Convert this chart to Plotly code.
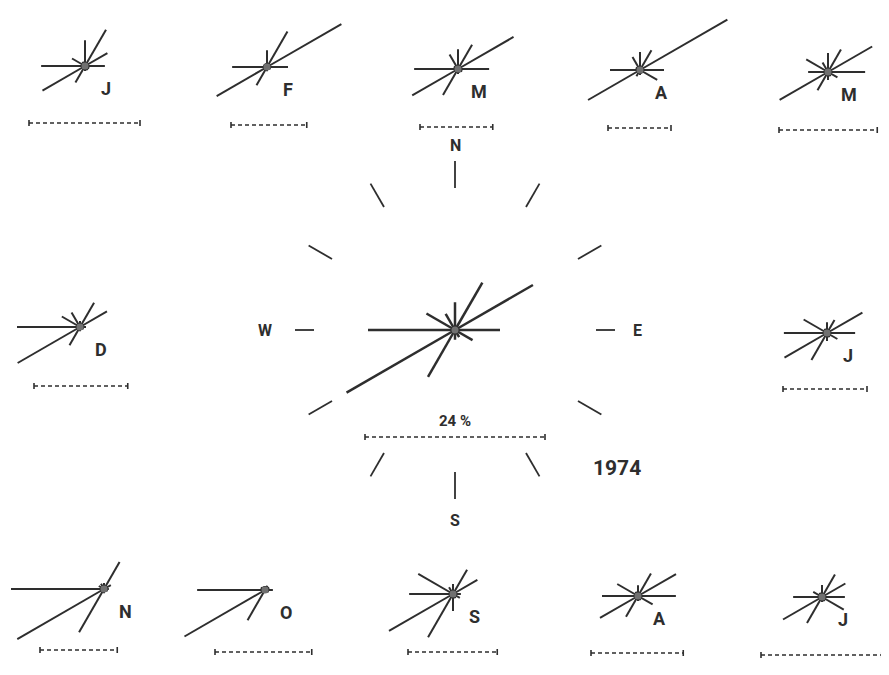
import math
import plotly.graph_objects as go

# wind direction sectors, degrees clockwise from north
directions = [0, 30, 60, 90, 120, 150, 180, 210, 240, 270, 300, 330]

# frequency (%) per direction for each month, same order as directions
months = ["J", "F", "M", "A", "M", "J", "J", "A", "S", "O", "N", "D"]
jan = [6.9, 11.2, 6.9, 5.3, 1.3, 1.3, 1.3, 5.1, 13.1, 11.7, 4.0, 1.3]
feb = [4.5, 10.9, 22.9, 5.6, 1.1, 0.8, 1.1, 5.6, 15.5, 9.3, 1.1, 1.1]
mar = [5.3, 7.5, 17.1, 8.3, 1.3, 1.1, 1.3, 8.0, 14.1, 11.7, 1.3, 4.5]
apr = [4.8, 6.1, 26.9, 6.4, 5.3, 1.1, 1.3, 1.9, 16.0, 8.0, 1.3, 4.0]
may = [5.1, 6.9, 13.6, 9.9, 2.9, 1.3, 2.1, 5.6, 14.9, 5.3, 6.7, 2.9]
jun = [2.9, 4.0, 10.9, 7.5, 3.2, 1.3, 2.1, 8.3, 13.1, 11.5, 7.2, 1.3]
jul = [3.2, 6.9, 7.2, 6.1, 6.7, 1.3, 1.3, 8.0, 12.0, 7.7, 2.7, 1.3]
aug = [2.9, 6.9, 11.7, 10.1, 4.5, 1.3, 1.3, 6.4, 11.7, 9.6, 6.4, 1.3]
sep = [2.7, 7.5, 7.5, 2.1, 2.1, 1.3, 4.5, 13.3, 19.7, 11.7, 10.7, 2.1]
oct_ = [1.1, 1.3, 1.3, 2.1, 1.1, 0.8, 0.8, 9.3, 24.8, 18.1, 1.3, 1.1]
nov = [1.6, 8.3, 2.1, 1.3, 1.1, 0.8, 1.1, 13.3, 26.7, 24.8, 1.6, 1.6]
dec = [1.6, 7.5, 8.3, 1.6, 1.1, 0.8, 1.1, 5.6, 19.2, 16.8, 5.6, 4.5]
monthly = [jan, feb, mar, apr, may, jun, jul, aug, sep, oct_, nov, dec]

# whole year
annual = [3.7, 7.3, 12.0, 6.0, 2.7, 1.1, 1.3, 7.2, 16.7, 11.6, 4.4, 2.5]
annual_scale = 24  # %
year = "1974"

# length of the dashed scale bar under each month (%)
month_scale = [14.8, 10.1, 9.7, 8.4, 13.1, 11.2, 16.1, 12.3, 11.9, 12.9, 10.3, 12.5]

# ---- layout (pixels of the page) ----
W, H = 889, 675
OFF = 8            # page body margin, so axes are shifted to keep page pixels
PX_ANNUAL = 7.5    # px per % for the annual rose
PX_MONTH = 3.75    # px per % for monthly roses
PX_BAR = 7.5       # px per % for scale bars
centers = [(85, 66), (267, 67), (458, 69), (640, 70), (828, 72), (827, 333),
           (822, 597), (638, 596), (453, 594), (265, 590), (104, 589), (80, 327)]
bar_pos = [(29, 123), (231, 125), (420, 127), (608, 128), (779, 130), (783, 389),
           (761, 655), (591, 653), (408, 652), (215, 652), (40, 650), (34, 386)]
main_c = (455, 330)
INK = "#2e2e2e"
FONT = "Roboto"

fig = go.Figure()


def rose(cx, cy, vals, scale, width):
    xs, ys = [], []
    for d, v in zip(directions, vals):
        a = math.radians(d)
        xs += [cx, cx + v * scale * math.sin(a), None]
        ys += [cy, cy - v * scale * math.cos(a), None]
    fig.add_trace(go.Scatter(x=xs, y=ys, mode="lines",
                             line=dict(color=INK, width=width), hoverinfo="skip"))
    fig.add_trace(go.Scatter(x=[cx], y=[cy], mode="markers",
                             marker=dict(size=7, color="#707070"), hoverinfo="skip"))


def scale_bar(x0, y, val):
    x1 = x0 + val * PX_BAR
    fig.add_trace(go.Scatter(x=[x0, x1], y=[y, y], mode="lines",
                             line=dict(color=INK, width=1.6, dash="4px,3px"),
                             hoverinfo="skip"))
    fig.add_trace(go.Scatter(x=[x0, x0, None, x1, x1], y=[y - 3, y + 3, None, y - 3, y + 3],
                             mode="lines", line=dict(color=INK, width=1.6), hoverinfo="skip"))


for m, vals, (cx, cy), (bx, by), sc in zip(months, monthly, centers, bar_pos, month_scale):
    rose(cx, cy, vals, PX_MONTH, 2)
    scale_bar(bx, by, sc)
    fig.add_annotation(x=cx + 21, y=cy + 22, text="<b>%s</b>" % m, showarrow=False,
                       font=dict(family=FONT, size=18, color=INK))

# annual rose with compass ticks
rose(main_c[0], main_c[1], annual, PX_ANNUAL, 2.5)
tx, ty = [], []
for d in directions:
    a = math.radians(d)
    r0, r1 = (141, 160) if d in (90, 270) else (142, 169)
    tx += [main_c[0] + r0 * math.sin(a), main_c[0] + r1 * math.sin(a), None]
    ty += [main_c[1] - r0 * math.cos(a), main_c[1] - r1 * math.cos(a), None]
fig.add_trace(go.Scatter(x=tx, y=ty, mode="lines", line=dict(color=INK, width=1.8),
                         hoverinfo="skip"))
for lab, d, r in [("N", 0, 185), ("E", 90, 182), ("S", 180, 190), ("W", 270, 190)]:
    a = math.radians(d)
    fig.add_annotation(x=main_c[0] + r * math.sin(a), y=main_c[1] - r * math.cos(a),
                       text="<b>%s</b>" % lab, showarrow=False,
                       font=dict(family=FONT, size=16, color=INK))

scale_bar(365, 437, annual_scale)
fig.add_annotation(x=365 + annual_scale * PX_BAR / 2, y=421, text="<b>24 %</b>",
                   showarrow=False, font=dict(family=FONT, size=15, color=INK))
fig.add_annotation(x=617, y=468, text="<b>%s</b>" % year, showarrow=False,
                   font=dict(family=FONT, size=21, color=INK))

fig.update_layout(width=W, height=H, margin=dict(l=0, r=0, t=0, b=0),
                  showlegend=False, plot_bgcolor="white", paper_bgcolor="white",
                  xaxis=dict(range=[OFF, W + OFF], visible=False, fixedrange=True),
                  yaxis=dict(range=[H + OFF, OFF], visible=False, fixedrange=True))
fig.write_html("out.html")
